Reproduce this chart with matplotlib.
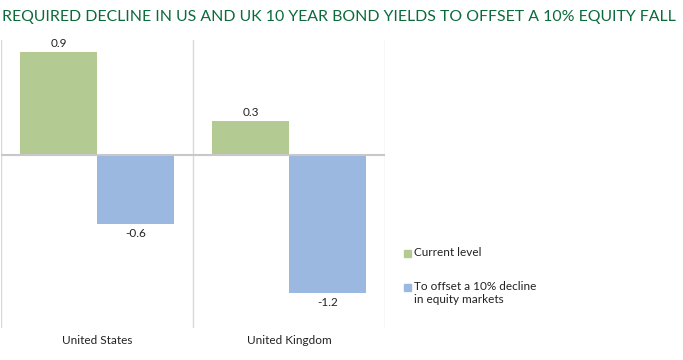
import matplotlib
matplotlib.use('Agg')
import matplotlib.pyplot as plt
from matplotlib.patches import Rectangle
import numpy as np

plt.rcParams['font.family'] = ['Lato', 'DejaVu Sans']

countries = ['United States', 'United Kingdom']
current_level = [0.9, 0.3]
offset_needed = [-0.6, -1.2]
series_names = ['Current level', 'To offset a 10% decline\nin equity markets']

GREEN = '#b3cb93'
BLUE = '#9bb8e1'
GRID = '#d9d9d9'
TITLE_COL = '#0b6b3a'
W, H = 683, 360

fig = plt.figure(figsize=(6.83, 3.6), dpi=100)
ax = fig.add_axes([1 / W, 32 / H, 384 / W, 288 / H])

x = np.arange(len(countries))
w = 0.4
b1 = ax.bar(x - w / 2, current_level, w, color=GREEN, zorder=2)
b2 = ax.bar(x + w / 2, offset_needed, w, color=BLUE, zorder=2)

ax.set_xlim(-0.5, len(countries) - 0.5)
ax.set_ylim(-1.5, 1.0)
ax.axhline(0, color='#c8c8c8', lw=1.5, zorder=3)
for xv in np.arange(-0.5, len(countries), 1.0):
    ax.axvline(xv, color=GRID, lw=1.0, zorder=1)

for rect, v in zip(b1, current_level):
    ax.text(rect.get_x() + rect.get_width() / 2, v + 0.02, f'{v:.1f}',
            ha='center', va='bottom', fontsize=8.5, color='#222222')
for rect, v in zip(b2, offset_needed):
    ax.text(rect.get_x() + rect.get_width() / 2, v - 0.03, f'{v:.1f}',
            ha='center', va='top', fontsize=8.5, color='#222222')

for s in ax.spines.values():
    s.set_visible(False)
ax.set_yticks([])
ax.set_xticks([])
for xi, name in zip(x, countries):
    ax.text(xi, -1.5 - 0.06, name, ha='center', va='top', fontsize=8.5,
            color='#222222')

# legend, drawn by hand so the swatch sits on the first text line
for (ly, col, lab) in [(253, GREEN, series_names[0]), (287, BLUE, series_names[1])]:
    fig.patches.append(Rectangle((404 / W, 1 - (ly + 3.5) / H), 7 / W, 7 / H,
                                 color=col, transform=fig.transFigure))
    fig.text(414 / W, 1 - (ly - 6) / H, lab, ha='left', va='top',
             fontsize=8.5, color='#222222', linespacing=1.25)

title = fig.text(2 / W, 1 - 17 / H,
                 'REQUIRED DECLINE IN US AND UK 10 YEAR BOND YIELDS TO OFFSET A 10% EQUITY FALL',
                 ha='left', va='center', fontsize=13, color=TITLE_COL)
fig.canvas.draw()
tw = title.get_window_extent().width
title.set_fontsize(13 * 672 / tw)

fig.savefig('out.png', dpi=100)
